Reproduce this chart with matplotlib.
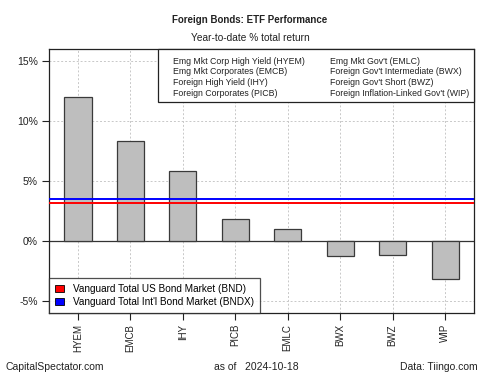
import matplotlib
matplotlib.use("Agg")
import matplotlib.pyplot as plt
from matplotlib.patches import Patch, Rectangle

plt.rcParams['font.family'] = ['Liberation Sans', 'DejaVu Sans']

tickers = ["HYEM", "EMCB", "IHY", "PICB", "EMLC", "BWX", "BWZ", "WIP"]
returns = [12.0, 8.35, 5.8, 1.85, 0.97, -1.25, -1.2, -3.2]
names = ["Emg Mkt Corp High Yield (HYEM)", "Emg Mkt Corporates (EMCB)",
         "Foreign High Yield (IHY)", "Foreign Corporates (PICB)",
         "Emg Mkt Gov't (EMLC)", "Foreign Gov't Intermediate (BWX)",
         "Foreign Gov't Short (BWZ)", "Foreign Inflation-Linked Gov't (WIP)"]
bnd = 3.17
bndx = 3.5
yticks = [-5, 0, 5, 10, 15]

W, H = 500, 375
fig = plt.figure(figsize=(5, 3.75), dpi=100)
L, R, T, B = 49, 474, 49, 313
ax = fig.add_axes([L/W, 1-B/H, (R-L)/W, (B-T)/H])

def fx(px):
    return px / W

def fy(py):
    return 1 - py / H

x = list(range(len(tickers)))
ax.set_axisbelow(True)
ax.bar(x, returns, width=0.52, color='#BEBEBE', edgecolor='#3a3a3a', linewidth=0.9, zorder=3)
ax.axhline(0, color='#333333', linewidth=0.9, zorder=2)
ax.axhline(bnd, color='red', linewidth=1.4, zorder=4)
ax.axhline(bndx, color='blue', linewidth=1.4, zorder=4)

ax.set_xlim(-0.55, 7.55)
ax.set_ylim(-6, 16)
ax.set_yticks(yticks)
ax.set_yticklabels([f"{v}%" for v in yticks], fontsize=7.5, color='#222222')
ax.set_xticks(x)
ax.set_xticklabels(tickers, rotation=90, fontsize=7, color='#222222')
ax.grid(True, color='#c8c8c8', linestyle=(0, (2, 2)), linewidth=0.7)
for s in ax.spines.values():
    s.set_color('#222222')
    s.set_linewidth(0.9)
ax.tick_params(axis='both', length=5, width=0.8, color='#222222', pad=3)

# top-right name legend box (drawn in figure coordinates)
box = Rectangle((fx(158), fy(102)), fx(R) - fx(158), fy(T) - fy(102),
                transform=fig.transFigure, facecolor='white', edgecolor='#222222',
                linewidth=0.9, zorder=10)
fig.add_artist(box)
rows_y = [61.5, 72, 82.5, 93]
for i, nm in enumerate(names):
    col = i // 4
    row = i % 4
    xp = 173 if col == 0 else 330
    fig.text(fx(xp), fy(rows_y[row]), nm, ha='left', va='center', fontsize=6.3,
             color='#222222', zorder=11)

h2 = [Patch(facecolor='red', edgecolor='black', linewidth=0.6),
      Patch(facecolor='blue', edgecolor='black', linewidth=0.6)]
leg2 = ax.legend(h2, ["Vanguard Total US Bond Market (BND)",
                      "Vanguard Total Int'l Bond Market (BNDX)"],
                 loc='lower left', fontsize=7.2, frameon=True, fancybox=False,
                 edgecolor='#222222', handlelength=0.9, handleheight=0.75,
                 handletextpad=0.9, labelspacing=0.3, borderpad=0.6,
                 borderaxespad=0)
leg2.get_frame().set_linewidth(0.9)

fig.text(0.5, fy(20), "Foreign Bonds: ETF Performance", ha='center', va='center',
         fontsize=7.0, fontweight='bold', color='#222222')
fig.text(0.5, fy(38), "Year-to-date % total return", ha='center', va='center',
         fontsize=7.25, color='#222222')
fig.text(fx(5), fy(367), "CapitalSpectator.com", ha='left', va='center', fontsize=7.5, color='#222222')
fig.text(fx(256), fy(367), "as of   2024-10-18", ha='center', va='center', fontsize=7.5, color='#222222')
fig.text(fx(478), fy(367), "Data: Tiingo.com", ha='right', va='center', fontsize=7.5, color='#222222')

fig.savefig("out.png", dpi=100)
